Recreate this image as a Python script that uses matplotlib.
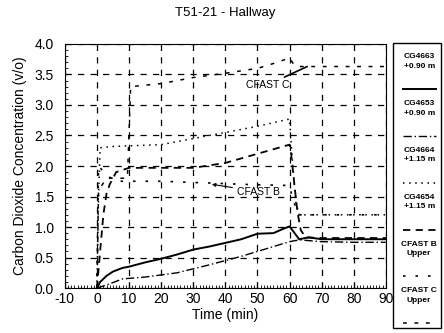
import matplotlib
matplotlib.use('Agg')
import matplotlib.pyplot as plt
from matplotlib.lines import Line2D
from matplotlib.patches import Rectangle
import numpy as np

plt.rcParams['font.family'] = ['Liberation Sans', 'DejaVu Sans']
plt.rcParams['axes.unicode_minus'] = False

# data
t_4663 = [0, 1, 3, 5, 8, 10, 15, 20, 25, 30, 35, 40, 45, 50, 55, 58, 60, 63, 66, 70, 80, 90]
co2_4663 = [0, 0.1, 0.2, 0.27, 0.33, 0.35, 0.42, 0.48, 0.55, 0.63, 0.68, 0.74, 0.8, 0.89, 0.9, 0.97, 1.01, 0.8, 0.83, 0.8, 0.8, 0.8]

t_4653 = [0, 3, 8, 15, 25, 35, 45, 55, 60, 63, 70, 80, 90]
co2_4653 = [0, 0.05, 0.15, 0.18, 0.25, 0.38, 0.52, 0.68, 0.76, 0.79, 0.76, 0.75, 0.75]

t_4664 = [0, 0.5, 1, 5, 10, 20, 30, 40, 50, 60, 61, 62, 63, 70, 80, 90]
co2_4664 = [0, 1.5, 2.3, 2.32, 2.33, 2.35, 2.45, 2.55, 2.65, 2.77, 2.0, 1.4, 1.2, 1.2, 1.2, 1.2]

t_4654 = [0, 1, 2, 3, 4, 6, 10, 20, 30, 40, 50, 60, 60.5, 61.5, 62.5, 63.5, 65, 70, 80, 90]
co2_4654 = [0, 0.6, 1.2, 1.55, 1.7, 1.9, 1.97, 1.97, 1.97, 2.05, 2.2, 2.35, 2.2, 1.7, 1.23, 0.95, 0.83, 0.82, 0.82, 0.82]

t_cfb = [0, 0.5, 3, 6, 10, 20, 30, 36, 45, 60, 61, 63, 70, 80, 90]
co2_cfb = [0, 2.0, 1.85, 1.75, 1.75, 1.75, 1.73, 1.72, 1.7, 1.68, 1.45, 1.2, 1.2, 1.2, 1.2]

t_cfc = [0, 0.5, 3, 9.5, 10.5, 20, 30, 40, 50, 55, 60, 61.5, 63, 70, 80, 90]
co2_cfc = [0, 1.6, 1.8, 1.8, 3.3, 3.35, 3.45, 3.52, 3.6, 3.68, 3.77, 3.65, 3.63, 3.63, 3.63, 3.63]

labels = ['CG4663\n+0.90 m', 'CG4653\n+0.90 m', 'CG4664\n+1.15 m',
          'CG4654\n+1.15 m', 'CFAST B\nUpper', 'CFAST C\nUpper']

series = [(t_4663, co2_4663), (t_4653, co2_4653), (t_4664, co2_4664),
          (t_4654, co2_4654), (t_cfb, co2_cfb), (t_cfc, co2_cfc)]
styles = ['-', (0, (6, 2, 1, 2)), (0, (1, 3)), (0, (4, 3)), (0, (1.5, 6)), (0, (2.5, 5))]
widths = [1.4, 1.0, 1.1, 1.3, 1.2, 1.1]

fig = plt.figure(figsize=(4.44, 3.33), dpi=100)
ax = fig.add_axes([0.146, 0.135, 0.723, 0.733])

for (t, c), ls, lw in zip(series, styles, widths):
    ax.plot(t, c, color='black', linestyle=ls, linewidth=lw)

ax.set_xlim(-10, 90)
ax.set_ylim(0, 4)
ax.set_xticks(np.arange(-10, 91, 10))
ax.set_yticks(np.arange(0, 4.01, 0.5))
ax.set_yticklabels(['%.1f' % v for v in np.arange(0, 4.01, 0.5)])
ax.set_xticks(np.arange(-10, 91, 1), minor=True)
ax.set_yticks(np.arange(0, 4.01, 0.1), minor=True)
ax.tick_params(which='both', direction='in', labelsize=10)
ax.tick_params(axis='x', which='major', pad=3)
ax.tick_params(axis='y', which='major', pad=8)
ax.tick_params(which='major', length=4)
ax.tick_params(which='minor', length=2.5)
ax.grid(True, which='major', color='black', linestyle=(0, (5, 5)), linewidth=0.9)

ax.set_xlabel('Time (min)', fontsize=10, labelpad=1)
ax.set_ylabel('Carbon Dioxide Concentration (v/o)', fontsize=10, labelpad=5)
ax.set_title('T51-21 - Hallway', fontsize=9.5, pad=20)

ax.annotate('CFAST C', xy=(65.5, 3.63), xytext=(60, 3.33), fontsize=7.5,
            ha='right', va='center',
            arrowprops=dict(arrowstyle='-', color='black', lw=1.2, shrinkA=0, shrinkB=0))
ax.annotate('CFAST B', xy=(35.8, 1.70), xytext=(43.5, 1.58), fontsize=7.5,
            ha='left', va='center',
            arrowprops=dict(arrowstyle='-|>', color='black', lw=0.8,
                            mutation_scale=5, shrinkA=1, shrinkB=0))

# legend drawn as a box on the right, sample line under each label
fig.patches.append(Rectangle((0.886, 0.015), 0.108, 0.856, transform=fig.transFigure,
                             fill=False, edgecolor='black', linewidth=1.0))
for i, (lab, ls, lw) in enumerate(zip(labels, styles, widths)):
    ytxt = 0.815 - i * 0.1405
    fig.text(0.944, ytxt, lab, ha='center', va='center', fontsize=6,
             fontweight='bold', linespacing=1.5)
    yl = ytxt - 0.083
    fig.lines.append(Line2D([0.908, 0.982], [yl, yl], transform=fig.transFigure,
                            color='black', linestyle=ls, linewidth=lw))

fig.savefig('out.png', dpi=100)
